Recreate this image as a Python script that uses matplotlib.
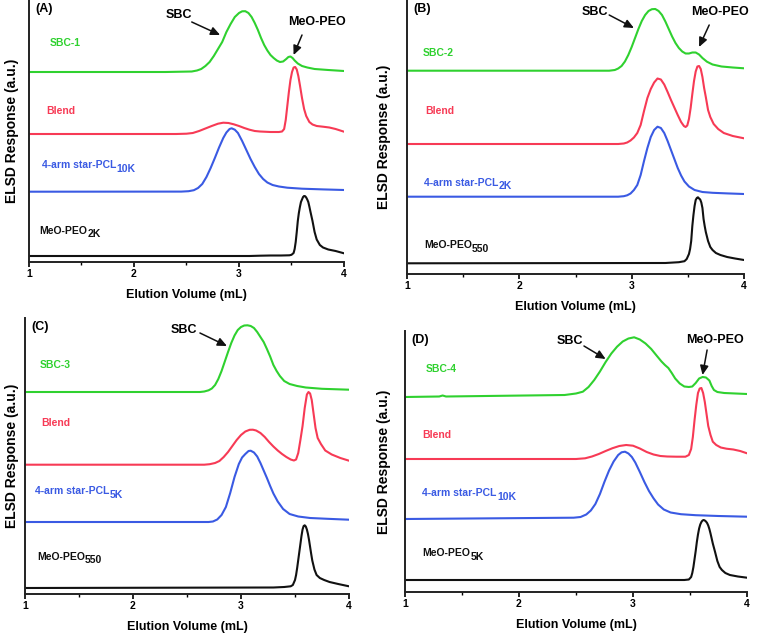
"""ELSD traces of SBC-1..4, blends and their precursors (four panels)."""

import matplotlib

matplotlib.use("Agg")
import matplotlib.pyplot as plt

plt.rcParams["font.family"] = ["Liberation Sans", "DejaVu Sans"]
plt.rcParams["font.weight"] = "bold"

GREEN = "#2fd12f"
RED = "#f73a55"
BLUE = "#3a5ae3"
BLACK = "#111111"

# ---- traces (x = elution volume in mL, y = response, a.u.)
# panel A
A_SBC_X = [1.0, 2.3, 2.55, 2.60, 2.64, 2.68, 2.72, 2.76, 2.80, 2.84, 2.88, 2.92, 2.96, 3.00,
           3.03, 3.06, 3.09, 3.12, 3.15, 3.18, 3.21, 3.24, 3.27, 3.30, 3.33, 3.36, 3.39, 3.42,
           3.45, 3.47, 3.49, 3.51, 3.53, 3.56, 3.60, 3.65, 3.72, 3.85, 4.0]
A_SBC_Y = [190, 190, 190.5, 191.5, 193, 196, 200, 206, 213, 220, 230, 238, 245, 249,
           250.7, 250.8, 249, 245, 239, 232, 224, 217, 211.5, 207, 204, 201.5, 200, 200.5,
           203, 205, 205.5, 204, 201.5, 198.5, 196, 194.5, 193, 192, 191]
A_BLEND_X = [1.0, 2.40, 2.50, 2.56, 2.62, 2.68, 2.74, 2.80, 2.85, 2.90, 2.95, 3.00, 3.05, 3.10,
             3.15, 3.20, 3.30, 3.38, 3.41, 3.43, 3.445, 3.46, 3.475, 3.49, 3.505, 3.52, 3.535,
             3.55, 3.565, 3.58, 3.60, 3.62, 3.64, 3.67, 3.70, 3.74, 3.80, 3.86, 3.92, 4.0]
A_BLEND_Y = [128, 128, 128.3, 129, 131, 133.5, 136, 138.3, 139.3, 139, 137.7, 136, 134, 132.3,
             131, 130.5, 130, 130, 130.5, 133, 142, 156, 170, 182, 190, 194.5, 195,
             192.5, 186, 177, 164, 153, 146, 140, 137.5, 136, 135.3, 134.5, 133, 130.3]
A_PCL_X = [1.0, 2.45, 2.52, 2.57, 2.61, 2.65, 2.69, 2.73, 2.77, 2.81, 2.85, 2.88, 2.91, 2.93,
           2.96, 2.99, 3.03, 3.07, 3.11, 3.15, 3.19, 3.23, 3.27, 3.32, 3.38, 3.46, 3.60, 3.80, 4.0]
A_PCL_Y = [70.3, 70.4, 70.8, 71.8, 74, 78, 85, 94, 104, 114.5, 124, 129.5, 133, 133.7,
           132.3, 129, 121, 112, 103, 95, 88, 83, 79.5, 77, 75.5, 74.3, 73.3, 72.6, 72]
A_PEO_X = [1.0, 3.10, 3.20, 3.30, 3.40, 3.48, 3.50, 3.52, 3.53, 3.54, 3.55, 3.56, 3.57, 3.58,
           3.59, 3.60, 3.61, 3.62, 3.63, 3.64, 3.65, 3.66, 3.67, 3.68, 3.70, 3.72, 3.74, 3.77,
           3.80, 3.85, 3.92, 4.0]
A_PEO_Y = [6, 6, 6.3, 6.5, 6.5, 6.7, 7.2, 9, 13, 20, 30, 41, 49, 55,
           60, 62.5, 65, 66, 65.8, 64.5, 62.5, 60, 55.5, 50.5, 41, 30, 22.5, 17,
           14.5, 12.5, 11, 8.7]

# panel B
B_SBC_X = [1.0, 2.80, 2.85, 2.88, 2.91, 2.94, 2.97, 3.00, 3.03, 3.06, 3.09, 3.12, 3.15, 3.18,
           3.21, 3.24, 3.27, 3.30, 3.33, 3.36, 3.39, 3.42, 3.45, 3.48, 3.51, 3.54, 3.57, 3.60,
           3.63, 3.67, 3.72, 3.80, 3.90, 4.0]
B_SBC_Y = [203.3, 203.3, 204, 205.5, 208, 212.5, 219, 227, 236, 245, 253, 259, 263, 264.8,
           265, 263, 259, 252.5, 245, 237.5, 231, 226, 222.5, 220.5, 220.5, 221.5, 221.5, 219.5,
           216, 212.3, 209.5, 207.5, 206.5, 205.7]
B_BLEND_X = [1.0, 2.88, 2.93, 2.96, 2.99, 3.02, 3.05, 3.08, 3.11, 3.14, 3.17, 3.20, 3.23, 3.26,
             3.29, 3.32, 3.35, 3.38, 3.41, 3.44, 3.465, 3.48, 3.495, 3.51, 3.525, 3.54, 3.555,
             3.57, 3.585, 3.60, 3.615, 3.63, 3.645, 3.66, 3.68, 3.70, 3.73, 3.77, 3.82, 3.90, 4.0]
B_BLEND_Y = [130, 130, 130.5, 131.5, 133.5, 136.5, 141, 149, 163, 176, 185, 191.5, 195.5, 194.5,
             189.5, 182, 174, 166.5, 159, 152, 148, 147, 148.5, 155, 166, 180, 193,
             202.5, 207.5, 208, 205, 197, 186, 177, 164, 157, 150, 145, 141, 138, 135.7]
B_PCL_X = [1.0, 2.88, 2.93, 2.96, 2.99, 3.02, 3.05, 3.08, 3.11, 3.14, 3.17, 3.20, 3.23, 3.26,
           3.29, 3.32, 3.35, 3.38, 3.41, 3.44, 3.47, 3.51, 3.56, 3.63, 3.72, 3.85, 4.0]
B_PCL_Y = [77.3, 77.3, 77.8, 78.7, 80.5, 84, 89, 99, 113, 126, 137, 144, 147.3, 146,
           141, 133, 124, 115, 106, 98.5, 92.5, 87.5, 84, 82, 81.2, 80.6, 80]
B_PEO_X = [1.0, 3.30, 3.42, 3.47, 3.49, 3.51, 3.52, 3.53, 3.54, 3.55, 3.56, 3.57, 3.58, 3.59,
           3.60, 3.61, 3.62, 3.63, 3.64, 3.65, 3.66, 3.68, 3.70, 3.72, 3.75, 3.79, 3.85, 3.92, 4.0]
B_PEO_Y = [10.7, 11, 11.8, 12.8, 15, 20, 25, 33, 48, 59, 68, 74, 76, 76.7,
           75.5, 74.5, 71.5, 66, 55, 48, 42, 33, 27, 24, 21, 19, 17, 15.5, 14]

# panel C
C_SBC_X = [1.0, 2.62, 2.66, 2.70, 2.73, 2.76, 2.79, 2.82, 2.85, 2.88, 2.91, 2.94, 2.97, 3.00,
           3.03, 3.06, 3.09, 3.12, 3.15, 3.18, 3.21, 3.24, 3.27, 3.30, 3.33, 3.36, 3.40, 3.45,
           3.52, 3.60, 3.75, 4.0]
C_SBC_Y = [202, 202, 202.5, 203.7, 205.5, 209, 215, 223, 232.5, 242, 251, 258.5, 264, 267,
           268.5, 268.7, 268, 266, 262, 257, 252, 245, 237.5, 229, 223, 218, 213, 210,
           208, 206.5, 205.2, 204.3]
C_BLEND_X = [1.0, 2.66, 2.71, 2.76, 2.80, 2.84, 2.88, 2.92, 2.96, 3.00, 3.04, 3.08, 3.11, 3.14,
             3.18, 3.22, 3.26, 3.30, 3.34, 3.38, 3.42, 3.46, 3.49, 3.51, 3.53, 3.55, 3.57, 3.59,
             3.61, 3.625, 3.64, 3.655, 3.67, 3.69, 3.71, 3.74, 3.78, 3.84, 3.92, 4.0]
C_BLEND_Y = [129.3, 129.3, 129.8, 131, 133, 137, 142, 148, 154, 159, 162.5, 164.2, 164.3, 163.5,
             161, 157, 152, 147.5, 143.5, 140, 137, 134.5, 133.5, 134.5, 141, 154, 168, 186,
             199.5, 202, 200.5, 194, 182, 166, 156, 150, 143.5, 139.5, 136, 133.3]
C_PCL_X = [1.0, 2.70, 2.74, 2.78, 2.82, 2.86, 2.90, 2.94, 2.98, 3.01, 3.04, 3.07, 3.09, 3.12,
           3.15, 3.18, 3.21, 3.24, 3.27, 3.30, 3.34, 3.39, 3.45, 3.53, 3.64, 3.80, 4.0]
C_PCL_Y = [72, 72, 72.5, 74.5, 79, 87, 101, 117, 130, 136.5, 140, 143, 143.3, 141.5,
           137.5, 131, 123.5, 116, 108, 100.5, 92.5, 85, 80, 77.5, 76, 75.2, 74.3]
C_PEO_X = [1.0, 3.30, 3.40, 3.46, 3.48, 3.50, 3.51, 3.52, 3.53, 3.54, 3.55, 3.56, 3.57, 3.58,
           3.59, 3.60, 3.61, 3.62, 3.63, 3.64, 3.65, 3.66, 3.68, 3.70, 3.73, 3.77, 3.82, 3.90, 4.0]
C_PEO_Y = [6, 6.5, 7, 7.7, 9, 14, 19, 26, 34, 42, 50, 58, 64.5, 68,
           68.7, 67.5, 64.5, 60, 54, 47, 40, 33.5, 24.5, 19, 16, 14, 12, 10, 7.7]

# panel D
D_SBC_X = [1.0, 1.30, 1.33, 1.36, 2.40, 2.50, 2.56, 2.61, 2.66, 2.71, 2.76, 2.81, 2.86, 2.91,
           2.96, 3.01, 3.06, 3.11, 3.16, 3.21, 3.25, 3.28, 3.31, 3.34, 3.37, 3.41, 3.45, 3.49,
           3.52, 3.55, 3.58, 3.61, 3.64, 3.67, 3.69, 3.71, 3.74, 3.80, 3.90, 4.0]
D_SBC_Y = [195, 195.5, 196.5, 195.5, 197, 198.5, 200.3, 205, 212, 220.5, 230, 238.5, 245.3, 250.5,
           253.5, 254.7, 252.5, 248.5, 243, 236, 230.5, 227, 224, 219, 213.5, 208.5, 205.5, 205,
           205.5, 209, 213.5, 215, 214.5, 211.5, 206, 202, 200, 199, 198.5, 198]
D_BLEND_X = [1.0, 2.50, 2.58, 2.64, 2.70, 2.76, 2.82, 2.88, 2.94, 3.00, 3.06, 3.12, 3.18, 3.24,
             3.30, 3.38, 3.46, 3.49, 3.51, 3.525, 3.54, 3.555, 3.57, 3.585, 3.60, 3.615, 3.63,
             3.645, 3.66, 3.68, 3.70, 3.73, 3.77, 3.82, 3.88, 3.94, 4.0]
D_BLEND_Y = [133, 133, 133.7, 135.5, 138, 141, 143.8, 146, 147, 146.3, 143.5, 140, 137.5, 136,
             135.5, 135.3, 135.3, 137, 143, 155, 172, 187, 199, 203.5, 204, 199, 190,
             178, 166, 157, 150.3, 147, 144.5, 143.3, 142.5, 141, 138.7]
D_PCL_X = [1.0, 2.48, 2.54, 2.59, 2.63, 2.67, 2.71, 2.75, 2.79, 2.83, 2.87, 2.90, 2.93, 2.96,
           2.99, 3.02, 3.06, 3.10, 3.14, 3.18, 3.22, 3.27, 3.33, 3.42, 3.55, 3.75, 4.0]
D_PCL_Y = [73, 74.3, 75, 77.5, 81.5, 88, 98, 110.3, 121.5, 130.5, 137, 139.7, 140.3, 138.5,
           135, 129.5, 120, 110, 101, 93.7, 87.5, 82.5, 79.5, 77.8, 76.8, 76, 75.3]
D_PEO_X = [1.0, 3.30, 3.45, 3.49, 3.51, 3.52, 3.53, 3.54, 3.55, 3.56, 3.57, 3.58, 3.59, 3.60,
           3.61, 3.62, 3.63, 3.64, 3.65, 3.66, 3.67, 3.68, 3.69, 3.70, 3.72, 3.74, 3.76, 3.78,
           3.81, 3.85, 3.92, 4.0]
D_PEO_Y = [12, 12, 12, 12.5, 15, 19, 25, 33, 41, 50, 57.5, 63.5, 67.5, 70,
           71.5, 72, 71.5, 70.5, 69, 66.5, 63, 58.5, 53.5, 48.5, 40, 31, 25, 22,
           19, 17, 15.5, 14.3]

# (main text, subscript) for the four trace labels of each panel
TRACE_LABELS = {
    "A": [("SBC-1", ""), ("Blend", ""), ("4-arm star-PCL", "10K"), ("MeO-PEO", "2K")],
    "B": [("SBC-2", ""), ("Blend", ""), ("4-arm star-PCL", "2K"), ("MeO-PEO", "550")],
    "C": [("SBC-3", ""), ("Blend", ""), ("4-arm star-PCL", "5K"), ("MeO-PEO", "550")],
    "D": [("SBC-4", ""), ("Blend", ""), ("4-arm star-PCL", "10K"), ("MeO-PEO", "5K")],
}
COLORS = [GREEN, RED, BLUE, BLACK]
ARROW = dict(arrowstyle="-|>,head_length=0.55,head_width=0.25", color=BLACK, lw=1.1,
             shrinkA=0, shrinkB=0)


def draw_panel(fig, rect, ytop, traces, tag, label_pos, sbc_arrow, peo_arrow=None,
               ylabel_x=-0.055):
    ax = fig.add_axes(rect)
    for (x, y), c in zip(traces, COLORS):
        ax.plot(x, y, color=c, lw=1.5, solid_joinstyle="round", solid_capstyle="round")

    for (main, sub), (lx, ly), c in zip(TRACE_LABELS[tag], label_pos, COLORS):
        t = ax.text(lx, ly, main, color=c, fontsize=7.5, fontweight="bold",
                    va="baseline", ha="left")
        if sub:
            # subscript sits about half a cap height below the main baseline
            ax.annotate(sub, xy=(1, 0), xycoords=t, xytext=(0.3, 1.2),
                        textcoords="offset points", color=c, fontsize=7.5,
                        fontweight="bold", va="center", ha="left")

    ax.text(1.06, ytop - 9, f"({tag})", fontsize=9, fontweight="bold", va="center", ha="left")

    (tx, ty), (hx, hy), (sx, sy) = sbc_arrow
    ax.annotate("", xy=(hx, hy), xytext=(tx, ty), arrowprops=ARROW)
    ax.text(sx, sy, "SBC", fontsize=9, fontweight="bold", ha="center", va="center")
    if peo_arrow is not None:
        (tx, ty), (hx, hy), (sx, sy) = peo_arrow
        ax.annotate("", xy=(hx, hy), xytext=(tx, ty), arrowprops=ARROW)
        ax.text(sx, sy, "MeO-PEO", fontsize=9, fontweight="bold", ha="center", va="center",
                clip_on=False)

    ax.set_xlim(1, 4)
    ax.set_ylim(0, ytop)
    ax.set_xticks([1, 2, 3, 4])
    ax.set_xticks([1.5, 2.5, 3.5], minor=True)
    ax.set_yticks([])
    for side in ("top", "right"):
        ax.spines[side].set_visible(False)
    for side in ("left", "bottom"):
        ax.spines[side].set_linewidth(1.4)
        ax.spines[side].set_color("#222222")
    ax.tick_params(axis="x", which="major", direction="out", length=3.5, width=1.2,
                   pad=1.5, labelsize=7.5)
    ax.tick_params(axis="x", which="minor", direction="out", length=2, width=1.0)
    for lbl in ax.get_xticklabels():
        lbl.set_fontweight("bold")

    h_px = rect[3] * 636
    ax.set_xlabel("Elution Volume (mL)", fontsize=9, fontweight="bold", va="center")
    ax.xaxis.set_label_coords(0.5, -33 / h_px)
    ax.set_ylabel("ELSD Response (a.u.)", fontsize=10, fontweight="bold", va="center")
    ax.yaxis.set_label_coords(ylabel_x, 0.5)
    return ax


fig = plt.figure(figsize=(7.58, 6.36), dpi=100)

draw_panel(
    fig, [29 / 758, 374 / 636, 315 / 758, 262 / 636], 262,
    [(A_SBC_X, A_SBC_Y), (A_BLEND_X, A_BLEND_Y), (A_PCL_X, A_PCL_Y), (A_PEO_X, A_PEO_Y)],
    "A",
    [(1.20, 215.5), (1.16, 147.5), (1.12, 93.5), (1.10, 28.5)],
    ((2.55, 240), (2.82, 227), (2.43, 247)),
    ((3.60, 227), (3.52, 207), (3.74, 240)),
    ylabel_x=-0.054,
)
draw_panel(
    fig, [407 / 758, 362 / 636, 337 / 758, 274 / 636], 274,
    [(B_SBC_X, B_SBC_Y), (B_BLEND_X, B_BLEND_Y), (B_PCL_X, B_PCL_Y), (B_PEO_X, B_PEO_Y)],
    "B",
    [(1.14, 218.5), (1.16, 160.5), (1.15, 88.5), (1.15, 25.5)],
    ((2.80, 259), (3.02, 246), (2.67, 262)),
    ((3.69, 249), (3.60, 227), (3.79, 262)),
    ylabel_x=-0.068,
)
draw_panel(
    fig, [25 / 758, 42 / 636, 324 / 758, 276 / 636], 276,
    [(C_SBC_X, C_SBC_Y), (C_BLEND_X, C_BLEND_Y), (C_PCL_X, C_PCL_Y), (C_PEO_X, C_PEO_Y)],
    "C",
    [(1.14, 225.5), (1.15, 167.5), (1.09, 99.5), (1.11, 34.5)],
    ((2.62, 261), (2.87, 248), (2.47, 264)),
    None,
    ylabel_x=-0.04,
)
draw_panel(
    fig, [405 / 758, 44 / 636, 342 / 758, 261 / 636], 261,
    [(D_SBC_X, D_SBC_Y), (D_BLEND_X, D_BLEND_Y), (D_PCL_X, D_PCL_Y), (D_PEO_X, D_PEO_Y)],
    "D",
    [(1.18, 220.5), (1.15, 153.5), (1.15, 95.5), (1.15, 35.5)],
    ((2.57, 246), (2.76, 233), (2.45, 251)),
    ((3.65, 242), (3.61, 217), (3.72, 252)),
    ylabel_x=-0.061,
)

fig.savefig("out.png", dpi=100)
